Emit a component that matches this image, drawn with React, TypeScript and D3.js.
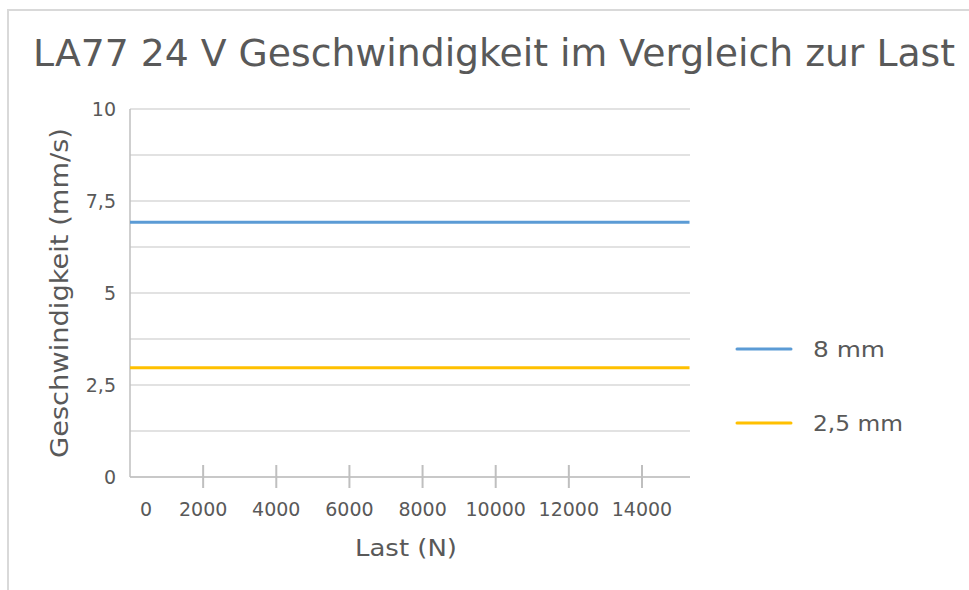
import * as d3 from "d3";

// values
const loads = [0, 15300];
const speed8mm = [6.92, 6.92];
const speed25mm = [2.97, 2.97];
const seriesNames = ["8 mm", "2,5 mm"];
const seriesColors = ["#5b9bd5", "#ffc000"];
const yGridTicks = [0, 1.25, 2.5, 3.75, 5, 6.25, 7.5, 8.75, 10];
const yLabelTicks = [0, 2.5, 5, 7.5, 10];
const xTicks = [0, 2000, 4000, 6000, 8000, 10000, 12000, 14000];

const title = "LA77 24 V Geschwindigkeit im Vergleich zur Last";
const xTitle = "Last (N)";
const yTitle = "Geschwindigkeit (mm/s)";

const W = 969;
const H = 590;
const plot = { left: 130, right: 690, top: 109, bottom: 477 };
const font = "'DejaVu Sans', sans-serif";
const textColor = "#595959";

const fmtComma = (v: number) => String(v).replace(".", ",");
// Montserrat in the original is wider than DejaVu, so the glyphs get stretched a bit
const legendWidths = [72, 90];

export default function App() {
  const x = d3.scaleLinear().domain([0, 15313]).range([plot.left, plot.right]);
  const y = d3.scaleLinear().domain([0, 10]).range([plot.bottom, plot.top]);

  const series = [speed8mm, speed25mm].map((vals, i) => ({
    name: seriesNames[i],
    color: seriesColors[i],
    points: loads.map((l, j) => [l, vals[j]] as [number, number]),
  }));

  const line = d3
    .line<[number, number]>()
    .x((d) => x(d[0]))
    .y((d) => y(d[1]));

  return (
    <svg
      width={W}
      height={H}
      style={{ position: "absolute", left: 0, top: 0, background: "#fff" }}
      fontFamily={font}
    >
      {/* chart frame */}
      <rect x={8} y={10} width={W + 20} height={H + 20} fill="#fff" stroke="#d9d9d9" strokeWidth={2} />

      <text x={33} y={66} fontSize={37} fill={textColor} textLength={922} lengthAdjust="spacingAndGlyphs">
        {title}
      </text>

      {/* gridlines */}
      {yGridTicks.map((t) => (
        <line key={t} x1={plot.left} x2={plot.right} y1={y(t)} y2={y(t)} stroke="#d9d9d9" strokeWidth={1.5} />
      ))}

      {/* y axis line */}
      <line x1={plot.left} x2={plot.left} y1={plot.top} y2={plot.bottom} stroke="#bfbfbf" strokeWidth={1.5} />

      {yLabelTicks.map((t) => (
        <text key={t} x={116} y={y(t)} dy="0.35em" textAnchor="end" fontSize={19} fill={textColor}>
          {fmtComma(t)}
        </text>
      ))}

      {/* series */}
      {series.map((s) => (
        <path key={s.name} d={line(s.points) ?? ""} fill="none" stroke={s.color} strokeWidth={3} />
      ))}

      {/* x axis */}
      <line x1={plot.left} x2={plot.right} y1={plot.bottom} y2={plot.bottom} stroke="#bfbfbf" strokeWidth={1.5} />
      {xTicks
        .filter((t) => t > 0)
        .map((t) => (
          <line key={t} x1={x(t)} x2={x(t)} y1={plot.bottom - 12} y2={plot.bottom + 11} stroke="#bfbfbf" strokeWidth={2} />
        ))}
      {xTicks.map((t) => (
        <text
          key={t}
          x={x(t) + (t === 0 ? 16 : 0)}
          y={509}
          dy="0.35em"
          textAnchor="middle"
          fontSize={19}
          fill={textColor}
        >
          {t}
        </text>
      ))}

      <text
        x={406}
        y={548}
        dy="0.35em"
        textAnchor="middle"
        fontSize={23}
        fill={textColor}
        textLength={102}
        lengthAdjust="spacingAndGlyphs"
      >
        {xTitle}
      </text>
      <text
        transform={`translate(60,${(plot.top + plot.bottom) / 2}) rotate(-90)`}
        textAnchor="middle"
        dy="0.35em"
        fontSize={24}
        fill={textColor}
        textLength={330}
        lengthAdjust="spacingAndGlyphs"
      >
        {yTitle}
      </text>

      {/* legend */}
      {series.map((s, i) => (
        <g key={s.name} transform={`translate(737,${349 + i * 74})`}>
          <line x1={0} x2={54} y1={0} y2={0} stroke={s.color} strokeWidth={3} strokeLinecap="round" />
          <text
            x={76}
            y={0}
            dy="0.35em"
            fontSize={22}
            fill={textColor}
            textLength={legendWidths[i]}
            lengthAdjust="spacingAndGlyphs"
          >
            {s.name}
          </text>
        </g>
      ))}
    </svg>
  );
}
